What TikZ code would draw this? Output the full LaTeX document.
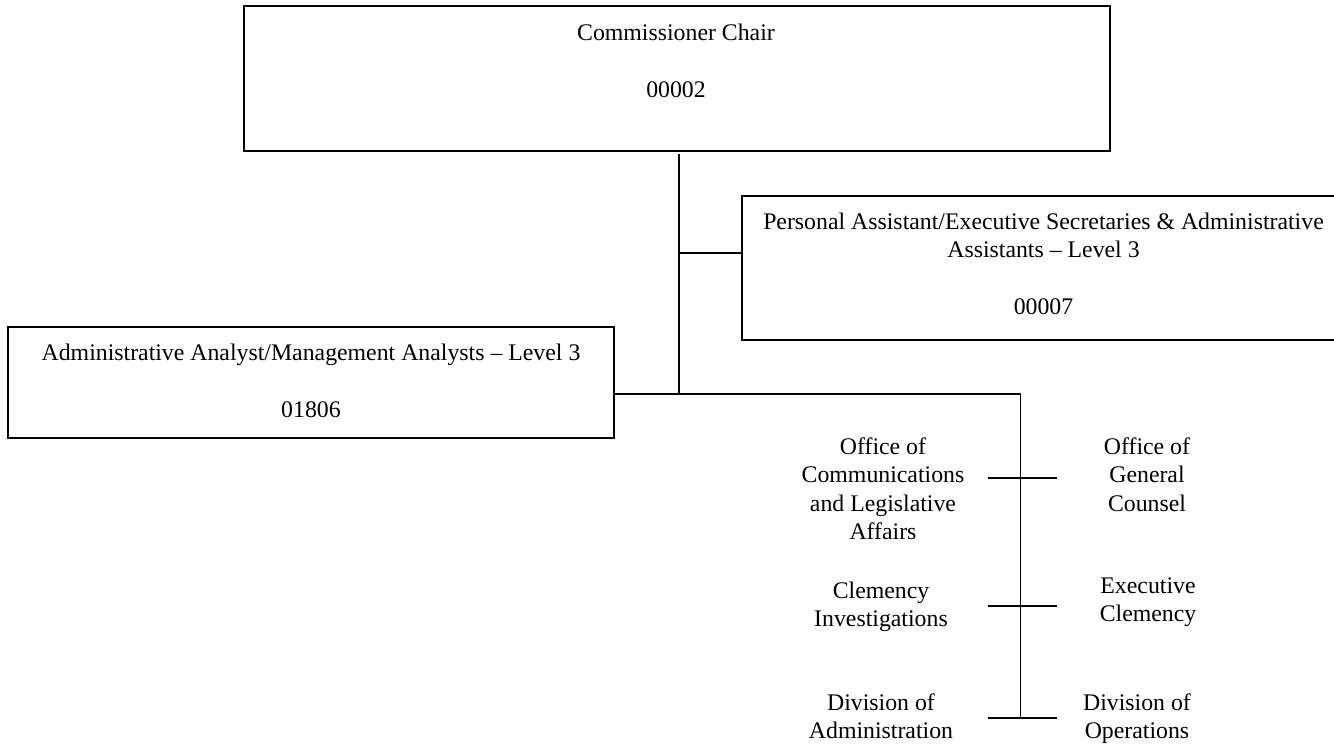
\documentclass[tikz,border=0pt]{standalone}
\usepackage{fontspec}
\setmainfont{Liberation Serif}
\begin{document}
\begin{tikzpicture}[x=1pt,y=-1pt,
  every node/.style={font=\fontsize{23.8pt}{28.5pt}\selectfont},
  unitbox/.style={draw=black, line width=2.8pt, rectangle, inner sep=0pt},
  boxtext/.style={align=center, anchor=north, inner sep=0pt},
  orgtext/.style={align=center, anchor=north, inner sep=0pt},
  wire/.style={draw=black, line width=1.7pt}]
\useasboundingbox (0,0) rectangle (1334,744);

% boxes
\node[unitbox, minimum width=866pt, minimum height=145pt] (chair) at (677,78.5) {};
\node[unitbox, minimum width=603pt, minimum height=144pt] (pa) at (1043.5,268) {};
\node[unitbox, minimum width=606pt, minimum height=111pt] (aa) at (311,382.5) {};

% box texts
\node[boxtext] (chairtxt) at (676,20) {\strut Commissioner Chair\\[28.5pt]00002};
\node[boxtext] (patxt) at (1043.5,209) {\strut Personal Assistant/Executive Secretaries \& Administrative\\Assistants -- Level 3\\[28.5pt]00007};
\node[boxtext] (aatxt) at (311,340) {\strut Administrative Analyst/Management Analysts -- Level 3\\[28.5pt]01806};

% office labels
\node[orgtext] (ocla) at (883,434) {\strut Office of\\Communications\\and Legislative\\Affairs};
\node[orgtext] (ogc) at (1147,434) {\strut Office of\\General\\Counsel};
\node[orgtext] (ci) at (881,578) {\strut Clemency\\Investigations};
\node[orgtext] (ec) at (1148,573) {\strut Executive\\Clemency};
\node[orgtext] (doa) at (881,690) {\strut Division of\\Administration};
\node[orgtext] (doo) at (1137,690) {\strut Division of\\Operations};

% connector points
\coordinate (trunktop) at (679,154);
\coordinate (trunk) at (679,394);
\coordinate (patap) at (679,253);
\coordinate (corner) at (1020.5,394);
\coordinate (spineend) at (1020.5,718);
\coordinate (t1l) at (988,478);  \coordinate (t1r) at (1057,478);
\coordinate (t2l) at (988,606);  \coordinate (t2r) at (1057,606);
\coordinate (t3l) at (988,718);  \coordinate (t3r) at (1057,718);

% connectors
\draw[wire] (trunktop) -- (trunk);
\draw[wire] (patap) -- (patap -| pa.west);
\draw[wire] (aa.east |- trunk) -- (trunk) -- (corner) -- (spineend);
\draw[wire] (t1l) -- (t1r);
\draw[wire] (t2l) -- (t2r);
\draw[wire] (t3l) -- (t3r);
\end{tikzpicture}
\end{document}
